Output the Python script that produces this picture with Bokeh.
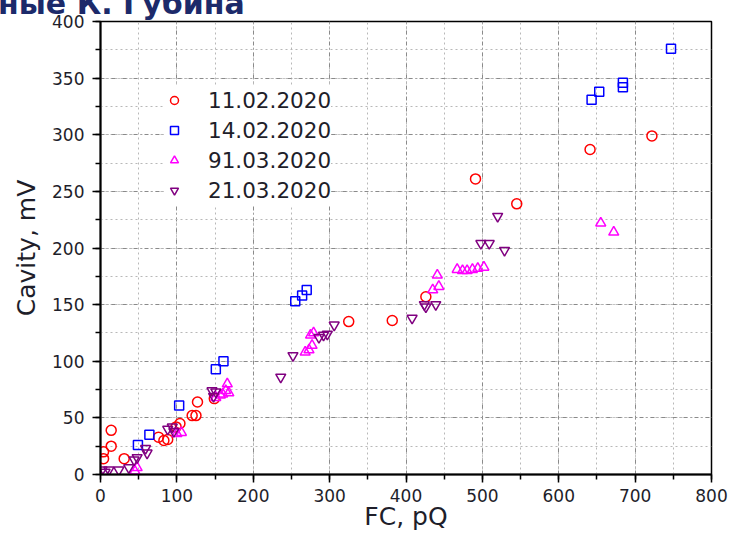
from bokeh.plotting import figure
from bokeh.models import Legend, LegendItem, Div, SingleIntervalTicker, Range1d
from bokeh.layouts import column
from bokeh.embed import file_html
from bokeh.resources import INLINE

# ---- data ----
labels = ["11.02.2020", "14.02.2020", "91.03.2020", "21.03.2020"]

x_red = [4, 4, 14, 14, 31, 76, 83, 88, 99, 104, 120, 125, 127, 149, 325, 382, 426, 491, 545, 641, 722]
y_red = [14, 20, 25, 39, 14, 33, 30, 31, 42, 45, 52, 52, 64, 67, 135, 136, 157, 261, 239, 287, 299]

x_blue = [49, 64, 103, 151, 161, 255, 264, 270, 643, 653, 684, 684, 747]
y_blue = [26, 35, 61, 93, 100, 153, 158, 163, 331, 338, 342, 346, 376]

x_mag = [45, 48, 100, 106, 151, 157, 160, 164, 166, 168, 268, 273, 277, 275, 279,
         435, 443, 441, 467, 474, 480, 487, 494, 502, 655, 672]
y_mag = [3, 6, 36, 37, 68, 70, 71, 74, 80, 72, 108, 110, 114, 123, 125,
         163, 166, 176, 181, 180, 180, 181, 182, 183, 222, 214]

x_pur = [2, 6, 11, 24, 37, 44, 48, 59, 61, 88, 94, 96, 146, 151, 148, 236, 252,
         286, 292, 297, 306, 408, 424, 426, 439, 498, 509, 520, 529]
y_pur = [4, 2, 4, 4, 6, 13, 15, 23, 19, 40, 42, 38, 74, 73, 69, 86, 105,
         121, 123, 124, 132, 138, 150, 148, 150, 204, 204, 228, 198]

title_text = "ные К. Губина"

FONT = "DejaVu Sans"

p = figure(width=731, height=534, output_backend="svg", toolbar_location=None,
           x_range=Range1d(0, 800), y_range=Range1d(0, 400),
           min_border_left=100, min_border_right=20, min_border_top=21,
           min_border_bottom=60, background_fill_color="white",
           border_fill_color=None)
p.styles = {"margin-top": "-14px"}

p.outline_line_color = "black"
p.outline_line_width = 1.5

p.xaxis.ticker = SingleIntervalTicker(interval=100, num_minor_ticks=2)
p.yaxis.ticker = SingleIntervalTicker(interval=50, num_minor_ticks=2)

for ax in (p.xaxis, p.yaxis):
    ax.axis_line_color = "black"
    ax.axis_line_width = 2
    ax.major_tick_line_color = "black"
    ax.major_tick_line_width = 1.5
    ax.minor_tick_line_color = "black"
    ax.minor_tick_line_width = 1.5
    ax.major_tick_out = 8
    ax.major_tick_in = 0
    ax.minor_tick_out = 5
    ax.minor_tick_in = 0
    ax.major_label_text_font = FONT
    ax.major_label_text_font_size = "17px"
    ax.major_label_text_color = "#1e1e2a"
    ax.axis_label_text_font = FONT
    ax.axis_label_text_font_size = "25px"
    ax.axis_label_text_font_style = "normal"
    ax.axis_label_text_color = "#1e1e2a"

p.xaxis.axis_label = "FC, pQ"
p.yaxis.axis_label = "Cavity, mV"
p.xaxis.major_label_standoff = 6
p.yaxis.major_label_standoff = 8
p.xaxis.axis_label_standoff = -3
p.yaxis.axis_label_standoff = 8

for g in (p.xgrid, p.ygrid):
    g.grid_line_color = "#8a8a8a"
    g.grid_line_dash = "4 3 1 3"
    g.grid_line_width = 1
    g.minor_grid_line_color = "#b8b8b8"
    g.minor_grid_line_dash = "2 3"
    g.minor_grid_line_width = 1

common = dict(fill_color=None, line_width=1.5)
r1 = p.scatter(x_red, y_red, marker="circle", size=10, line_color="#ff0000", **common)
r2 = p.scatter(x_blue, y_blue, marker="square", size=9, line_color="#0000ff", **common)
r3 = p.scatter(x_mag, y_mag, marker="triangle", size=10, line_color="#ff00ff", **common)
r4 = p.scatter(x_pur, y_pur, marker="inverted_triangle", size=10, line_color="#800080", **common)

legend = Legend(items=[LegendItem(label=l, renderers=[r]) for l, r in zip(labels, [r1, r2, r3, r4])],
                location="top_left", margin=64, padding=8, spacing=0,
                glyph_width=20, glyph_height=30, label_height=30, label_standoff=24,
                label_text_font=FONT, label_text_font_size="21.5px",
                label_text_color="#1e1e2a",
                border_line_color=None, background_fill_color="white",
                background_fill_alpha=1)
p.add_layout(legend)

title_div = Div(
    text=('<div style="white-space:nowrap;margin:-11px 0 0 -2px;'
          "font-family:'DejaVu Sans';font-weight:bold;font-size:30px;"
          'line-height:30px;color:#1c2a6a">' + title_text + '</div>'),
    width=731, height=14, margin=0)

layout = column(title_div, p, spacing=0)

open("out.html", "w").write(file_html(layout, INLINE))
